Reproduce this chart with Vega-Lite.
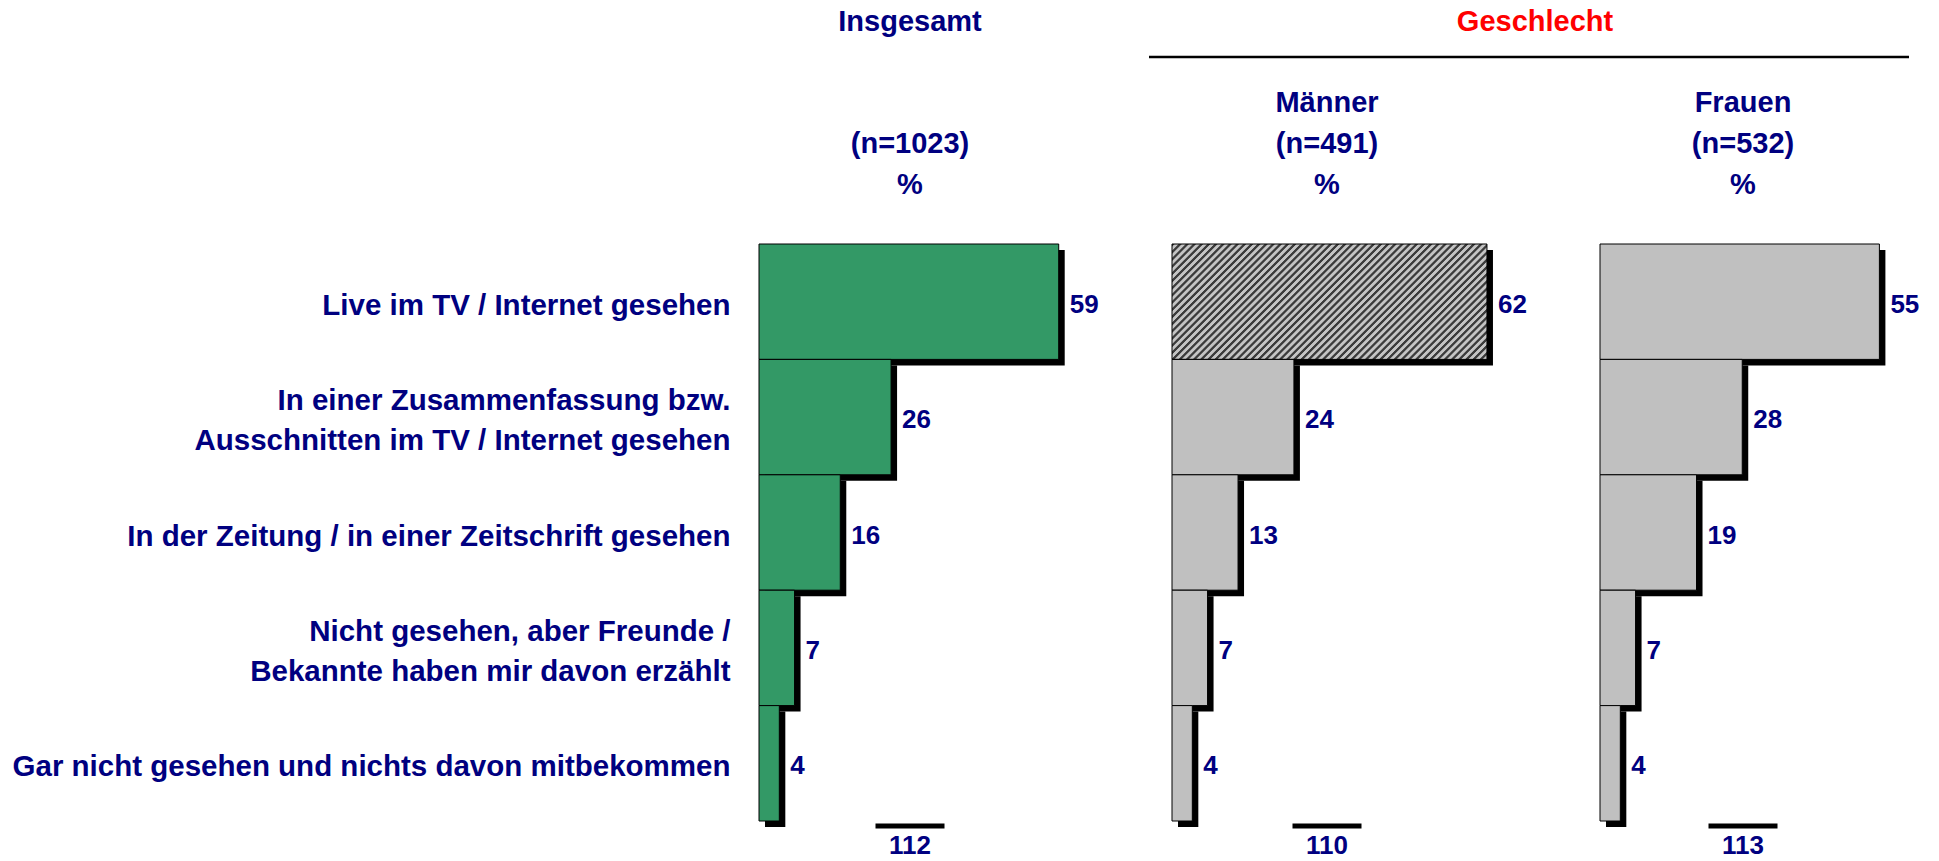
{
  "$schema": "https://vega.github.io/schema/vega-lite/v6.json",
  "autosize": {"type": "none"},
  "padding": {"left": 759, "top": 56, "right": 1180, "bottom": 805},
  "background": "white",
  "bounds": "flush",
  "spacing": 188,
  "datasets": {
    "umfrage": [
      {"gruppe": "Insgesamt", "antwort": "Live im TV / Internet gesehen", "prozent": 59},
      {"gruppe": "Insgesamt", "antwort": "In einer Zusammenfassung bzw.\nAusschnitten im TV / Internet gesehen", "prozent": 26},
      {"gruppe": "Insgesamt", "antwort": "In der Zeitung / in einer Zeitschrift gesehen", "prozent": 16},
      {"gruppe": "Insgesamt", "antwort": "Nicht gesehen, aber Freunde /\nBekannte haben mir davon erzählt", "prozent": 7},
      {"gruppe": "Insgesamt", "antwort": "Gar nicht gesehen und nichts davon mitbekommen", "prozent": 4},
      {"gruppe": "Männer", "antwort": "Live im TV / Internet gesehen", "prozent": 62},
      {"gruppe": "Männer", "antwort": "In einer Zusammenfassung bzw.\nAusschnitten im TV / Internet gesehen", "prozent": 24},
      {"gruppe": "Männer", "antwort": "In der Zeitung / in einer Zeitschrift gesehen", "prozent": 13},
      {"gruppe": "Männer", "antwort": "Nicht gesehen, aber Freunde /\nBekannte haben mir davon erzählt", "prozent": 7},
      {"gruppe": "Männer", "antwort": "Gar nicht gesehen und nichts davon mitbekommen", "prozent": 4},
      {"gruppe": "Frauen", "antwort": "Live im TV / Internet gesehen", "prozent": 55},
      {"gruppe": "Frauen", "antwort": "In einer Zusammenfassung bzw.\nAusschnitten im TV / Internet gesehen", "prozent": 28},
      {"gruppe": "Frauen", "antwort": "In der Zeitung / in einer Zeitschrift gesehen", "prozent": 19},
      {"gruppe": "Frauen", "antwort": "Nicht gesehen, aber Freunde /\nBekannte haben mir davon erzählt", "prozent": 7},
      {"gruppe": "Frauen", "antwort": "Gar nicht gesehen und nichts davon mitbekommen", "prozent": 4}
    ],
    "summen": [
      {"gruppe": "Insgesamt", "summe": 112},
      {"gruppe": "Männer", "summe": 110},
      {"gruppe": "Frauen", "summe": 113}
    ]
  },
  "vconcat": [
    {
      "hconcat": [
        {
          "width": 302, "height": 1,
          "data": {"values": [{"kopf": "Insgesamt"}]},
          "mark": {"type": "text", "fontSize": 29, "fontWeight": "bold", "fill": "#000080", "baseline": "middle", "dy": -35},
          "encoding": {"text": {"field": "kopf", "type": "nominal"}}
        },
        {
          "width": 760, "height": 1,
          "data": {"values": [{"kopf": "Geschlecht"}]},
          "layer": [
            {
              "mark": {"type": "rule", "stroke": "#000", "strokeWidth": 2.5},
              "encoding": {"y": {"datum": 0, "type": "quantitative", "scale": {"domain": [0, 1]}, "axis": null}}
            },
            {
              "mark": {"type": "text", "fontSize": 29, "fontWeight": "bold", "fill": "#FF0000", "baseline": "middle", "dy": -35, "dx": 6},
              "encoding": {"text": {"field": "kopf", "type": "nominal"}}
            }
          ]
        }
      ],
      "spacing": 88,
      "bounds": "flush"
    },
    {
      "vconcat": [
        {
          "hconcat": [
            {
              "width": 302, "height": 577,
              "title": {"text": ["(n=1023)", "%"]},
              "data": {"name": "umfrage"},
              "transform": [{"filter": "datum.gruppe === 'Insgesamt'"}],
              "encoding": {
                "y": {"field": "antwort", "type": "nominal", "sort": null,
                      "scale": {"paddingInner": 0, "paddingOuter": 0},
                      "axis": {"title": null, "domain": false, "ticks": false, "labelFontSize": 29.5, "labelFontWeight": "bold", "labelColor": "#000080", "labelPadding": 29, "labelLimit": 1200, "labelLineHeight": 40,
                               "labelOffset": {"condition": {"test": "datum.value.length > 55", "value": -16}, "value": 4},
                               "labelExpr": "split(datum.label, '\\n')"}},
                "x": {"field": "prozent", "type": "quantitative", "scale": {"domain": [0, 59.45]}, "axis": null}
              },
              "layer": [
                {"mark": {"type": "bar", "fill": "#000", "xOffset": 6, "x2Offset": 6, "yOffset": 6, "y2Offset": 6}},
                {"mark": {"type": "bar", "fill": "#339966", "stroke": "#000", "strokeWidth": 1}},
                {"mark": {"type": "text", "align": "left", "baseline": "middle", "dx": 11, "dy": 3, "fontSize": 26, "fontWeight": "bold", "fill": "#000080"},
                 "encoding": {"text": {"field": "prozent", "type": "quantitative"}}}
              ]
            },
            {
              "width": 324, "height": 577,
              "title": {"text": ["Männer", "(n=491)", "%"]},
              "data": {"name": "umfrage"},
              "transform": [{"filter": "datum.gruppe === 'Männer'"}],
              "encoding": {
                "y": {"field": "antwort", "type": "nominal", "sort": null, "scale": {"paddingInner": 0, "paddingOuter": 0}, "axis": null},
                "x": {"field": "prozent", "type": "quantitative", "scale": {"domain": [-1.378, 62.4]}, "axis": null}
              },
              "layer": [
                {"mark": {"type": "bar", "fill": "#000", "xOffset": 6, "x2Offset": 6, "yOffset": 6, "y2Offset": 6}},
                {"mark": {"type": "bar", "stroke": "#000", "strokeWidth": 1},
                 "encoding": {"fill": {"condition": {"test": "datum.antwort === 'Live im TV / Internet gesehen'",
                   "value": {"gradient": "linear", "x1": 0, "y1": 0, "x2": 1.2046, "y2": 0.4399, "stops": [
{"offset":0,"color":"#3c3c3c"},{"offset":0.005,"color":"#3c3c3c"},{"offset":0.0075,"color":"#c4c4c4"},{"offset":0.0142,"color":"#c4c4c4"},
{"offset":0.0167,"color":"#3c3c3c"},{"offset":0.0217,"color":"#3c3c3c"},{"offset":0.0242,"color":"#c4c4c4"},{"offset":0.0309,"color":"#c4c4c4"},
{"offset":0.0333,"color":"#3c3c3c"},{"offset":0.0383,"color":"#3c3c3c"},{"offset":0.0408,"color":"#c4c4c4"},{"offset":0.0475,"color":"#c4c4c4"},
{"offset":0.05,"color":"#3c3c3c"},{"offset":0.055,"color":"#3c3c3c"},{"offset":0.0575,"color":"#c4c4c4"},{"offset":0.0642,"color":"#c4c4c4"},
{"offset":0.0667,"color":"#3c3c3c"},{"offset":0.0717,"color":"#3c3c3c"},{"offset":0.0742,"color":"#c4c4c4"},{"offset":0.0809,"color":"#c4c4c4"},
{"offset":0.0833,"color":"#3c3c3c"},{"offset":0.0883,"color":"#3c3c3c"},{"offset":0.0908,"color":"#c4c4c4"},{"offset":0.0975,"color":"#c4c4c4"},
{"offset":0.1,"color":"#3c3c3c"},{"offset":0.105,"color":"#3c3c3c"},{"offset":0.1075,"color":"#c4c4c4"},{"offset":0.1142,"color":"#c4c4c4"},
{"offset":0.1167,"color":"#3c3c3c"},{"offset":0.1217,"color":"#3c3c3c"},{"offset":0.1242,"color":"#c4c4c4"},{"offset":0.1309,"color":"#c4c4c4"},
{"offset":0.1333,"color":"#3c3c3c"},{"offset":0.1383,"color":"#3c3c3c"},{"offset":0.1408,"color":"#c4c4c4"},{"offset":0.1475,"color":"#c4c4c4"},
{"offset":0.15,"color":"#3c3c3c"},{"offset":0.155,"color":"#3c3c3c"},{"offset":0.1575,"color":"#c4c4c4"},{"offset":0.1642,"color":"#c4c4c4"},
{"offset":0.1667,"color":"#3c3c3c"},{"offset":0.1717,"color":"#3c3c3c"},{"offset":0.1742,"color":"#c4c4c4"},{"offset":0.1809,"color":"#c4c4c4"},
{"offset":0.1833,"color":"#3c3c3c"},{"offset":0.1883,"color":"#3c3c3c"},{"offset":0.1908,"color":"#c4c4c4"},{"offset":0.1975,"color":"#c4c4c4"},
{"offset":0.2,"color":"#3c3c3c"},{"offset":0.205,"color":"#3c3c3c"},{"offset":0.2075,"color":"#c4c4c4"},{"offset":0.2142,"color":"#c4c4c4"},
{"offset":0.2167,"color":"#3c3c3c"},{"offset":0.2217,"color":"#3c3c3c"},{"offset":0.2242,"color":"#c4c4c4"},{"offset":0.2309,"color":"#c4c4c4"},
{"offset":0.2333,"color":"#3c3c3c"},{"offset":0.2383,"color":"#3c3c3c"},{"offset":0.2408,"color":"#c4c4c4"},{"offset":0.2475,"color":"#c4c4c4"},
{"offset":0.25,"color":"#3c3c3c"},{"offset":0.255,"color":"#3c3c3c"},{"offset":0.2575,"color":"#c4c4c4"},{"offset":0.2642,"color":"#c4c4c4"},
{"offset":0.2667,"color":"#3c3c3c"},{"offset":0.2717,"color":"#3c3c3c"},{"offset":0.2742,"color":"#c4c4c4"},{"offset":0.2809,"color":"#c4c4c4"},
{"offset":0.2833,"color":"#3c3c3c"},{"offset":0.2883,"color":"#3c3c3c"},{"offset":0.2908,"color":"#c4c4c4"},{"offset":0.2975,"color":"#c4c4c4"},
{"offset":0.3,"color":"#3c3c3c"},{"offset":0.305,"color":"#3c3c3c"},{"offset":0.3075,"color":"#c4c4c4"},{"offset":0.3142,"color":"#c4c4c4"},
{"offset":0.3167,"color":"#3c3c3c"},{"offset":0.3217,"color":"#3c3c3c"},{"offset":0.3242,"color":"#c4c4c4"},{"offset":0.3309,"color":"#c4c4c4"},
{"offset":0.3333,"color":"#3c3c3c"},{"offset":0.3383,"color":"#3c3c3c"},{"offset":0.3408,"color":"#c4c4c4"},{"offset":0.3475,"color":"#c4c4c4"},
{"offset":0.35,"color":"#3c3c3c"},{"offset":0.355,"color":"#3c3c3c"},{"offset":0.3575,"color":"#c4c4c4"},{"offset":0.3642,"color":"#c4c4c4"},
{"offset":0.3667,"color":"#3c3c3c"},{"offset":0.3717,"color":"#3c3c3c"},{"offset":0.3742,"color":"#c4c4c4"},{"offset":0.3809,"color":"#c4c4c4"},
{"offset":0.3833,"color":"#3c3c3c"},{"offset":0.3883,"color":"#3c3c3c"},{"offset":0.3908,"color":"#c4c4c4"},{"offset":0.3975,"color":"#c4c4c4"},
{"offset":0.4,"color":"#3c3c3c"},{"offset":0.405,"color":"#3c3c3c"},{"offset":0.4075,"color":"#c4c4c4"},{"offset":0.4142,"color":"#c4c4c4"},
{"offset":0.4167,"color":"#3c3c3c"},{"offset":0.4217,"color":"#3c3c3c"},{"offset":0.4242,"color":"#c4c4c4"},{"offset":0.4309,"color":"#c4c4c4"},
{"offset":0.4333,"color":"#3c3c3c"},{"offset":0.4383,"color":"#3c3c3c"},{"offset":0.4408,"color":"#c4c4c4"},{"offset":0.4475,"color":"#c4c4c4"},
{"offset":0.45,"color":"#3c3c3c"},{"offset":0.455,"color":"#3c3c3c"},{"offset":0.4575,"color":"#c4c4c4"},{"offset":0.4642,"color":"#c4c4c4"},
{"offset":0.4667,"color":"#3c3c3c"},{"offset":0.4717,"color":"#3c3c3c"},{"offset":0.4742,"color":"#c4c4c4"},{"offset":0.4809,"color":"#c4c4c4"},
{"offset":0.4833,"color":"#3c3c3c"},{"offset":0.4883,"color":"#3c3c3c"},{"offset":0.4908,"color":"#c4c4c4"},{"offset":0.4975,"color":"#c4c4c4"},
{"offset":0.5,"color":"#3c3c3c"},{"offset":0.505,"color":"#3c3c3c"},{"offset":0.5075,"color":"#c4c4c4"},{"offset":0.5142,"color":"#c4c4c4"},
{"offset":0.5167,"color":"#3c3c3c"},{"offset":0.5217,"color":"#3c3c3c"},{"offset":0.5242,"color":"#c4c4c4"},{"offset":0.5309,"color":"#c4c4c4"},
{"offset":0.5333,"color":"#3c3c3c"},{"offset":0.5383,"color":"#3c3c3c"},{"offset":0.5408,"color":"#c4c4c4"},{"offset":0.5475,"color":"#c4c4c4"},
{"offset":0.55,"color":"#3c3c3c"},{"offset":0.555,"color":"#3c3c3c"},{"offset":0.5575,"color":"#c4c4c4"},{"offset":0.5642,"color":"#c4c4c4"},
{"offset":0.5667,"color":"#3c3c3c"},{"offset":0.5717,"color":"#3c3c3c"},{"offset":0.5742,"color":"#c4c4c4"},{"offset":0.5809,"color":"#c4c4c4"},
{"offset":0.5833,"color":"#3c3c3c"},{"offset":0.5883,"color":"#3c3c3c"},{"offset":0.5908,"color":"#c4c4c4"},{"offset":0.5975,"color":"#c4c4c4"},
{"offset":0.6,"color":"#3c3c3c"},{"offset":0.605,"color":"#3c3c3c"},{"offset":0.6075,"color":"#c4c4c4"},{"offset":0.6142,"color":"#c4c4c4"},
{"offset":0.6167,"color":"#3c3c3c"},{"offset":0.6217,"color":"#3c3c3c"},{"offset":0.6242,"color":"#c4c4c4"},{"offset":0.6309,"color":"#c4c4c4"},
{"offset":0.6333,"color":"#3c3c3c"},{"offset":0.6383,"color":"#3c3c3c"},{"offset":0.6408,"color":"#c4c4c4"},{"offset":0.6475,"color":"#c4c4c4"},
{"offset":0.65,"color":"#3c3c3c"},{"offset":0.655,"color":"#3c3c3c"},{"offset":0.6575,"color":"#c4c4c4"},{"offset":0.6642,"color":"#c4c4c4"},
{"offset":0.6667,"color":"#3c3c3c"},{"offset":0.6717,"color":"#3c3c3c"},{"offset":0.6742,"color":"#c4c4c4"},{"offset":0.6809,"color":"#c4c4c4"},
{"offset":0.6833,"color":"#3c3c3c"},{"offset":0.6883,"color":"#3c3c3c"},{"offset":0.6908,"color":"#c4c4c4"},{"offset":0.6975,"color":"#c4c4c4"},
{"offset":0.7,"color":"#3c3c3c"},{"offset":0.705,"color":"#3c3c3c"},{"offset":0.7075,"color":"#c4c4c4"},{"offset":0.7142,"color":"#c4c4c4"},
{"offset":0.7167,"color":"#3c3c3c"},{"offset":0.7217,"color":"#3c3c3c"},{"offset":0.7242,"color":"#c4c4c4"},{"offset":0.7309,"color":"#c4c4c4"},
{"offset":0.7333,"color":"#3c3c3c"},{"offset":0.7383,"color":"#3c3c3c"},{"offset":0.7408,"color":"#c4c4c4"},{"offset":0.7475,"color":"#c4c4c4"},
{"offset":0.75,"color":"#3c3c3c"},{"offset":0.755,"color":"#3c3c3c"},{"offset":0.7575,"color":"#c4c4c4"},{"offset":0.7642,"color":"#c4c4c4"},
{"offset":0.7667,"color":"#3c3c3c"},{"offset":0.7717,"color":"#3c3c3c"},{"offset":0.7742,"color":"#c4c4c4"},{"offset":0.7809,"color":"#c4c4c4"},
{"offset":0.7833,"color":"#3c3c3c"},{"offset":0.7883,"color":"#3c3c3c"},{"offset":0.7908,"color":"#c4c4c4"},{"offset":0.7975,"color":"#c4c4c4"},
{"offset":0.8,"color":"#3c3c3c"},{"offset":0.805,"color":"#3c3c3c"},{"offset":0.8075,"color":"#c4c4c4"},{"offset":0.8142,"color":"#c4c4c4"},
{"offset":0.8167,"color":"#3c3c3c"},{"offset":0.8217,"color":"#3c3c3c"},{"offset":0.8242,"color":"#c4c4c4"},{"offset":0.8309,"color":"#c4c4c4"},
{"offset":0.8333,"color":"#3c3c3c"},{"offset":0.8383,"color":"#3c3c3c"},{"offset":0.8408,"color":"#c4c4c4"},{"offset":0.8475,"color":"#c4c4c4"},
{"offset":0.85,"color":"#3c3c3c"},{"offset":0.855,"color":"#3c3c3c"},{"offset":0.8575,"color":"#c4c4c4"},{"offset":0.8642,"color":"#c4c4c4"},
{"offset":0.8667,"color":"#3c3c3c"},{"offset":0.8717,"color":"#3c3c3c"},{"offset":0.8742,"color":"#c4c4c4"},{"offset":0.8809,"color":"#c4c4c4"},
{"offset":0.8833,"color":"#3c3c3c"},{"offset":0.8883,"color":"#3c3c3c"},{"offset":0.8908,"color":"#c4c4c4"},{"offset":0.8975,"color":"#c4c4c4"},
{"offset":0.9,"color":"#3c3c3c"},{"offset":0.905,"color":"#3c3c3c"},{"offset":0.9075,"color":"#c4c4c4"},{"offset":0.9142,"color":"#c4c4c4"},
{"offset":0.9167,"color":"#3c3c3c"},{"offset":0.9217,"color":"#3c3c3c"},{"offset":0.9242,"color":"#c4c4c4"},{"offset":0.9309,"color":"#c4c4c4"},
{"offset":0.9333,"color":"#3c3c3c"},{"offset":0.9383,"color":"#3c3c3c"},{"offset":0.9408,"color":"#c4c4c4"},{"offset":0.9475,"color":"#c4c4c4"},
{"offset":0.95,"color":"#3c3c3c"},{"offset":0.955,"color":"#3c3c3c"},{"offset":0.9575,"color":"#c4c4c4"},{"offset":0.9642,"color":"#c4c4c4"},
{"offset":0.9667,"color":"#3c3c3c"},{"offset":0.9717,"color":"#3c3c3c"},{"offset":0.9742,"color":"#c4c4c4"},{"offset":0.9809,"color":"#c4c4c4"},
{"offset":0.9833,"color":"#3c3c3c"},{"offset":0.9883,"color":"#3c3c3c"},{"offset":0.9908,"color":"#c4c4c4"},{"offset":0.9975,"color":"#c4c4c4"},
{"offset":1,"color":"#3c3c3c"}
                   ]}}, "value": "#C0C0C0"}}},
                {"mark": {"type": "text", "align": "left", "baseline": "middle", "dx": 11, "dy": 3, "fontSize": 26, "fontWeight": "bold", "fill": "#000080"},
                 "encoding": {"text": {"field": "prozent", "type": "quantitative"}}}
              ]
            },
            {
              "width": 300, "height": 577,
              "title": {"text": ["Frauen", "(n=532)", "%"]},
              "data": {"name": "umfrage"},
              "transform": [{"filter": "datum.gruppe === 'Frauen'"}],
              "encoding": {
                "y": {"field": "antwort", "type": "nominal", "sort": null, "scale": {"paddingInner": 0, "paddingOuter": 0}, "axis": null},
                "x": {"field": "prozent", "type": "quantitative", "scale": {"domain": [-1.378, 57.677]}, "axis": null}
              },
              "layer": [
                {"mark": {"type": "bar", "fill": "#000", "xOffset": 6, "x2Offset": 6, "yOffset": 6, "y2Offset": 6}},
                {"mark": {"type": "bar", "fill": "#C0C0C0", "stroke": "#000", "strokeWidth": 1}},
                {"mark": {"type": "text", "align": "left", "baseline": "middle", "dx": 11, "dy": 3, "fontSize": 26, "fontWeight": "bold", "fill": "#000080"},
                 "encoding": {"text": {"field": "prozent", "type": "quantitative"}}}
              ]
            }
          ],
          "spacing": 104,
          "bounds": "flush"
        },
        {
          "hconcat": [
            {
              "width": 302, "height": 10,
              "data": {"name": "summen"},
              "transform": [{"filter": "datum.gruppe === 'Insgesamt'"}],
              "layer": [
                {"mark": {"type": "tick", "orient": "horizontal", "size": 69, "thickness": 5, "color": "#000", "opacity": 1}, "encoding": {}},
                {"mark": {"type": "text", "baseline": "middle", "dy": 20, "fontSize": 26, "fontWeight": "bold", "fill": "#000080"},
                 "encoding": {"text": {"field": "summe", "type": "quantitative"}}}
              ]
            },
            {
              "width": 324, "height": 10,
              "data": {"name": "summen"},
              "transform": [{"filter": "datum.gruppe === 'Männer'"}],
              "layer": [
                {"mark": {"type": "tick", "orient": "horizontal", "size": 69, "thickness": 5, "color": "#000", "opacity": 1}, "encoding": {}},
                {"mark": {"type": "text", "baseline": "middle", "dy": 20, "fontSize": 26, "fontWeight": "bold", "fill": "#000080"},
                 "encoding": {"text": {"field": "summe", "type": "quantitative"}}}
              ]
            },
            {
              "width": 300, "height": 10,
              "data": {"name": "summen"},
              "transform": [{"filter": "datum.gruppe === 'Frauen'"}],
              "layer": [
                {"mark": {"type": "tick", "orient": "horizontal", "size": 69, "thickness": 5, "color": "#000", "opacity": 1}, "encoding": {}},
                {"mark": {"type": "text", "baseline": "middle", "dy": 20, "fontSize": 26, "fontWeight": "bold", "fill": "#000080"},
                 "encoding": {"text": {"field": "summe", "type": "quantitative"}}}
              ]
            }
          ],
          "spacing": 104,
          "bounds": "flush"
        }
      ],
      "spacing": 577,
      "bounds": "flush"
    }
  ],
  "config": {
    "font": "Liberation Sans",
    "view": {"stroke": null},
    "title": {"fontSize": 29, "fontWeight": "bold", "color": "#000080", "lineHeight": 41, "offset": 44, "anchor": "middle"},
    "text": {"font": "Liberation Sans"},
    "axis": {"labelFont": "Liberation Sans"}
  }
}
